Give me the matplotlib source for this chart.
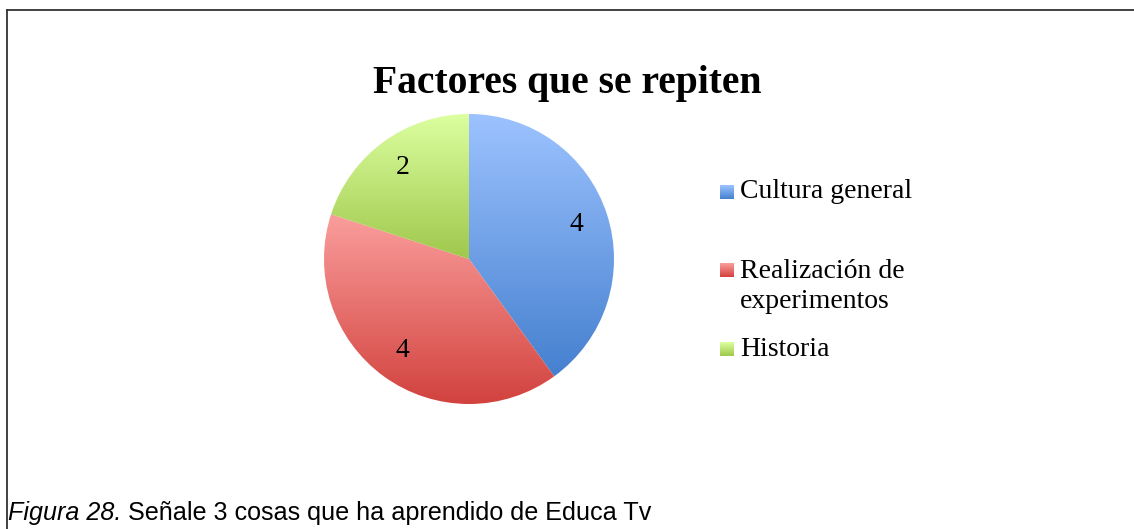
import matplotlib
matplotlib.use("Agg")
import matplotlib.pyplot as plt
import numpy as np
from matplotlib.colors import LinearSegmentedColormap
from matplotlib.lines import Line2D

# data
categories = ["Cultura general", "Realización de\nexperimentos", "Historia"]
values = [4, 4, 2]
title = "Factores que se repiten"
caption_italic = "Figura 28."
caption_text = " Señale 3 cosas que ha aprendido de Educa Tv"

# light (top) -> dark (bottom) gradient for each slice
grad_top = ["#9dc3ff", "#fa9e9c", "#dcffa0"]
grad_bottom = ["#4580cf", "#d2423e", "#9fc84c"]

W, H = 1134, 529
fig = plt.figure(figsize=(W / 100, H / 100), dpi=100)
fig.patch.set_facecolor("white")

# frame: top and left lines only
fig.add_artist(Line2D([7 / W, 1], [1 - 10 / H, 1 - 10 / H], color="#333333", lw=1.3))
fig.add_artist(Line2D([7 / W, 7 / W], [0, 1 - 10 / H], color="#333333", lw=1.3))

# pie axes placed on the pixel box of the pie
cx, cy, r = 469, 259, 145
ax = fig.add_axes([(cx - r) / W, (H - cy - r) / H, 2 * r / W, 2 * r / H])
ax.axis("off")

wedges, texts = ax.pie(values, startangle=90, counterclock=False, radius=1,
                       labels=[str(v) for v in values], labeldistance=0.78,
                       wedgeprops=dict(linewidth=0),
                       textprops=dict(family="Liberation Serif", fontsize=20, color="black"))
for t in texts:
    t.set_ha("center")
    t.set_va("center")
    t.set_zorder(5)

for w, top, bot in zip(wedges, grad_top, grad_bottom):
    ext = w.get_path().get_extents()
    cmap = LinearSegmentedColormap.from_list("g", [bot, top])
    grad = np.linspace(0, 1, 256).reshape(-1, 1)
    im = ax.imshow(grad, cmap=cmap, origin="lower", aspect="auto",
                   extent=[ext.x0, ext.x1, ext.y0, ext.y1], zorder=w.get_zorder())
    im.set_clip_path(w)
    w.set_facecolor("none")
ax.set_xlim(-1, 1)
ax.set_ylim(-1, 1)

# title
fig.text(567 / W, 1 - 84 / H, title, ha="center", va="center",
         family="Liberation Serif", fontweight="bold", fontsize=28.5)

# legend drawn by hand
leg_y = [192, 270, 349]
for i, (lab, y) in enumerate(zip(categories, leg_y)):
    sq = 14
    x0 = 720
    lax = fig.add_axes([x0 / W, (H - y - sq / 2) / H, sq / W, sq / H])
    lax.axis("off")
    cmap = LinearSegmentedColormap.from_list("g", [grad_bottom[i], grad_top[i]])
    lax.imshow(np.linspace(0, 1, 64).reshape(-1, 1), cmap=cmap, origin="lower",
               aspect="auto", extent=[0, 1, 0, 1])
    if "\n" in lab:
        fig.text(740 / W, 1 - (y - 11) / H, lab, ha="left", va="top",
                 family="Liberation Serif", fontsize=20, linespacing=1.25)
    else:
        fig.text(740 / W, 1 - y / H, lab, ha="left", va="center",
                 family="Liberation Serif", fontsize=20)

# caption
t1 = fig.text(8 / W, 1 - 513 / H, caption_italic, ha="left", va="center",
              family="Liberation Sans", style="italic", fontsize=18.1)
fig.canvas.draw()
bb = t1.get_window_extent()
fig.text(bb.x1 / W, 1 - 513 / H, caption_text, ha="left", va="center",
         family="Liberation Sans", fontsize=18.1)

fig.savefig("out.png", dpi=100, facecolor="white")
